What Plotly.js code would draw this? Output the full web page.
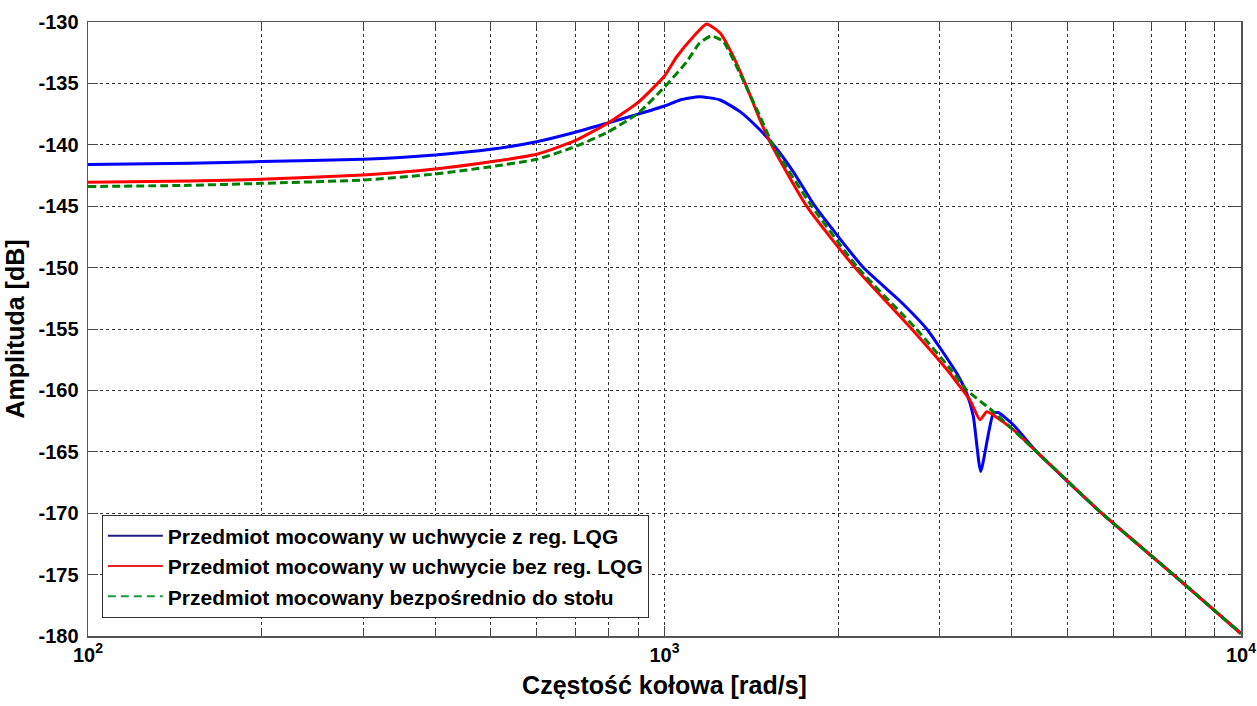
<!DOCTYPE html>
<html>
<head>
<meta charset="utf-8">
<script src="https://cdn.plot.ly/plotly-3.0.1.min.js"></script>
<style>html,body{margin:0;padding:0;background:#fff;}#chart{width:1257px;height:706px;}</style>
</head>
<body>
<div id="chart"></div>
<script>
// Frequencies [rad/s] and amplitudes [dB]
const freqBlue = [100, 150, 200, 300, 400, 500, 600, 700, 800, 900, 1000, 1064, 1150, 1249, 1352, 1465, 1545, 1673, 1824, 2213, 2559, 2850, 3213, 3344, 3433, 3536, 3718, 3793, 4027, 4422, 5733, 7632, 10000];
const ampBlue  = [-141.6, -141.5, -141.37, -141.18, -140.83, -140.37, -139.75, -138.98, -138.2, -137.5, -136.84, -136.35, -136.08, -136.35, -137.3, -138.8, -140.0, -142.2, -145.0, -150.0, -152.7, -155.0, -158.6, -160.24, -162.1, -166.6, -161.87, -161.8, -162.8, -165.0, -170.0, -175.0, -179.8];

const freqRed = [100, 150, 200, 300, 400, 500, 600, 700, 800, 900, 1000, 1050, 1122, 1183, 1249, 1316, 1389, 1465, 1533, 1764, 2140, 2684, 3126, 3256, 3387, 3526, 3622, 3744, 4027, 4422, 5733, 7632, 10000];
const ampRed  = [-143.05, -142.95, -142.81, -142.46, -141.97, -141.38, -140.77, -139.66, -138.2, -136.55, -134.4, -132.83, -131.2, -130.16, -130.9, -132.8, -135.3, -138.0, -140.0, -145.0, -150.0, -155.0, -158.6, -159.7, -160.78, -162.4, -161.73, -162.1, -163.2, -165.0, -170.0, -175.0, -179.8];

const freqGreen = [100, 150, 200, 300, 400, 500, 600, 700, 800, 900, 1000, 1093, 1150, 1205, 1265, 1352, 1465, 1545, 1801, 2164, 2734, 3126, 3344, 3718, 4422, 5733, 7632, 10000];
const ampGreen  = [-143.4, -143.3, -143.14, -142.87, -142.38, -141.78, -141.18, -140.15, -138.93, -137.43, -135.3, -133.23, -131.73, -131.14, -131.6, -134.2, -137.7, -140.1, -145.0, -150.0, -155.0, -158.2, -159.97, -161.73, -165.0, -170.0, -175.0, -179.8];

const seriesNames = [
  'Przedmiot mocowany w uchwycie z reg. LQG',
  'Przedmiot mocowany w uchwycie bez reg. LQG',
  'Przedmiot mocowany bezpośrednio do stołu'
];

const xTickVals = [100, 1000, 10000];
const xTickText = ['10<sup>2</sup>', '10<sup>3</sup>', '10<sup>4</sup>'];
const xMinorVals = [200, 300, 400, 500, 600, 700, 800, 900, 2000, 3000, 4000, 5000, 6000, 7000, 8000, 9000];
const yTickVals = [-130, -135, -140, -145, -150, -155, -160, -165, -170, -175, -180];
const yTickText = ['-130', '-135', '-140', '-145', '-150', '-155', '-160', '-165', '-170', '-175', '-180'];

const FONT = 'Liberation Sans, Arial, sans-serif';

const traces = [
  {x: freqBlue, y: ampBlue, type: 'scatter', mode: 'lines', showlegend: false,
   line: {color: '#0000ff', width: 3, shape: 'spline', smoothing: 0.5}},
  {x: freqRed, y: ampRed, type: 'scatter', mode: 'lines', showlegend: false,
   line: {color: '#ff0000', width: 3, shape: 'spline', smoothing: 0.5}},
  {x: freqGreen, y: ampGreen, type: 'scatter', mode: 'lines', showlegend: false,
   line: {color: '#008000', width: 3, dash: '8px,4px', shape: 'spline', smoothing: 0.5}},
  // legend entries
  {x: [null], y: [null], type: 'scatter', mode: 'lines', name: seriesNames[0],
   line: {color: '#1f1f80', width: 2}},
  {x: [null], y: [null], type: 'scatter', mode: 'lines', name: seriesNames[1],
   line: {color: '#e8201e', width: 2}},
  {x: [null], y: [null], type: 'scatter', mode: 'lines', name: seriesNames[2],
   line: {color: '#1a9a3c', width: 2, dash: '8px,5px'}}
];

const layout = {
  width: 1257, height: 706,
  margin: {l: 88, r: 16, t: 22, b: 70},
  paper_bgcolor: '#ffffff', plot_bgcolor: '#ffffff',
  font: {family: FONT, color: '#000'},
  xaxis: {
    type: 'log', range: [2, 4],
    tickmode: 'array', tickvals: xTickVals, ticktext: xTickText,
    tickfont: {family: FONT, size: 20, weight: 'bold', color: '#000'},
    ticks: 'inside', ticklen: 10, tickcolor: '#444', tickwidth: 1,
    showgrid: true, gridcolor: '#333', griddash: 'dot', gridwidth: 1,
    minor: {tickmode: 'array', tickvals: xMinorVals, ticks: 'inside', ticklen: 6,
            tickcolor: '#444', showgrid: true, gridcolor: '#333', griddash: 'dot', gridwidth: 1},
    showline: true, linecolor: '#555', linewidth: 1.5, mirror: 'ticks',
    zeroline: false,
    title: {text: 'Częstość kołowa [rad/s]', font: {family: FONT, size: 25, weight: 'bold', color: '#000'}, standoff: 12},
    automargin: false
  },
  yaxis: {
    range: [-180, -130],
    tickmode: 'array', tickvals: yTickVals, ticktext: yTickText,
    tickfont: {family: FONT, size: 20, weight: 'bold', color: '#000'},
    ticks: 'inside', ticklen: 10, tickcolor: '#444', tickwidth: 1,
    ticklabelstandoff: 4,
    showgrid: true, gridcolor: '#333', griddash: 'dot', gridwidth: 1,
    showline: true, linecolor: '#555', linewidth: 1.5, mirror: 'ticks',
    zeroline: false,
    title: {text: 'Amplituda [dB]', font: {family: FONT, size: 25, weight: 'bold', color: '#000'}, standoff: 6},
    automargin: false
  },
  legend: {
    x: 0.012, y: 0.03, xanchor: 'left', yanchor: 'bottom',
    bgcolor: '#ffffff', bordercolor: '#333', borderwidth: 1,
    font: {family: FONT, size: 21, weight: 'bold', color: '#000'},
    itemwidth: 55, tracegroupgap: 0
  },
  showlegend: true
};

Plotly.newPlot('chart', traces, layout, {displayModeBar: false, staticPlot: true});
</script>
</body>
</html>
